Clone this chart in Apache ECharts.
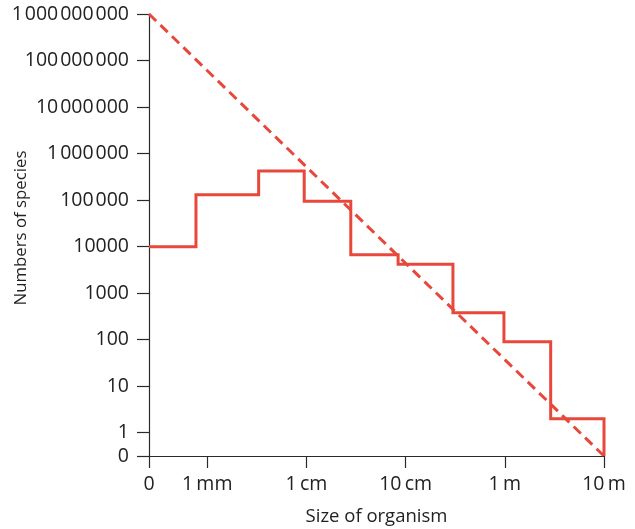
<!DOCTYPE html>
<html>
<head>
<meta charset="utf-8">
<script src="https://cdn.jsdelivr.net/npm/echarts@6/dist/echarts.min.js"></script>
<style>
  html, body { margin: 0; padding: 0; background: #fff; }
  #chart { width: 635px; height: 529px; }
</style>
</head>
<body>
<div id="chart"></div>
<script>
// ---- data ----
const sizeEdgesMm = [0, 0.77, 3.3, 9.5, 28, 84, 300, 980, 2900, 10000];
const speciesCounts = [10000, 130000, 420000, 95000, 6700, 4200, 380, 90, 2];
const trendSizesMm = [0, 10000];
const trendCounts = [1000000000, 0];
const yTickCounts = [0, 1, 10, 100, 1000, 10000, 100000, 1000000, 10000000, 100000000, 1000000000];
const yTickLabels = ['0', '1', '10', '100', '1000', '10000', '100\u200a000', '1\u200a000\u200a000', '10\u200a000\u200a000', '100\u200a000\u200a000', '1\u200a000\u200a000\u200a000'];
const xTickSizesMm = [0, 1, 10, 100, 1000, 10000];
const xTickLabels = ['0', '1\u2009mm', '1\u2009cm', '10\u2009cm', '1\u2009m', '10\u2009m'];

// ---- scale transforms (log axes with a "0" slot) ----
const X_ZERO = -0.587, Y_ZERO = -0.5;
const tx = v => v === 0 ? X_ZERO : Math.log10(v);
const ty = v => v === 0 ? Y_ZERO : Math.log10(v);

const stepPts = [];
for (let i = 0; i < speciesCounts.length; i++) {
  stepPts.push([tx(sizeEdgesMm[i]), ty(speciesCounts[i])]);
  stepPts.push([tx(sizeEdgesMm[i + 1]), ty(speciesCounts[i])]);
}
stepPts.push([tx(sizeEdgesMm[sizeEdgesMm.length - 1]), ty(0)]);
const trendPts = trendSizesMm.map((s, i) => [tx(s), ty(trendCounts[i])]);

const xVals = xTickSizesMm.map(tx);
const yVals = yTickCounts.map(ty);
const xLab = {}; xVals.forEach((v, i) => xLab[v.toFixed(4)] = xTickLabels[i]);
const yLab = {}; yVals.forEach((v, i) => yLab[v.toFixed(4)] = yTickLabels[i]);

const RED = '#e8483b';
const AX = '#2a2a2a';
const FONT = '"Open Sans", "Noto Sans", sans-serif';

const chart = echarts.init(document.getElementById('chart'), null, { renderer: 'canvas' });
chart.setOption({
  animation: false,
  backgroundColor: '#fff',
  grid: { left: 149, right: 31, top: 14, bottom: 73, containLabel: false, outerBoundsMode: 'none' },
  xAxis: {
    type: 'value', min: X_ZERO, max: 4,
    name: 'Size of organism', nameLocation: 'middle', nameGap: 51, nameMoveOverlap: false,
    nameTextStyle: { fontFamily: FONT, fontSize: 18.5, color: '#222' },
    axisLine: { show: true, onZero: false, lineStyle: { color: AX, width: 1.2 } },
    axisTick: { show: true, length: 12, customValues: xVals, lineStyle: { color: AX, width: 1.2 } },
    axisLabel: { show: true, customValues: xVals, margin: 18, fontFamily: FONT, fontSize: 19.5, color: '#222',
      showMinLabel: true, showMaxLabel: true,
      formatter: v => xLab[v.toFixed(4)] || '' },
    splitLine: { show: false }
  },
  yAxis: {
    type: 'value', min: Y_ZERO, max: 9,
    name: 'Numbers of species', nameLocation: 'middle', nameGap: 119, nameMoveOverlap: false,
    nameTextStyle: { fontFamily: FONT, fontSize: 16.8, color: '#222', padding: [0, 0, 0, 14] },
    axisLine: { show: true, onZero: false, lineStyle: { color: AX, width: 1.2 } },
    axisTick: { show: true, length: 12, customValues: yVals, lineStyle: { color: AX, width: 1.2 } },
    axisLabel: { show: true, customValues: yVals, margin: 20, fontFamily: FONT, fontSize: 19.5, color: '#222',
      showMinLabel: true, showMaxLabel: true,
      formatter: v => yLab[v.toFixed(4)] || '' },
    splitLine: { show: false }
  },
  series: [
    {
      type: 'line', data: trendPts, symbol: 'none', silent: true, z: 2,
      lineStyle: { color: RED, width: 3, type: [10, 6] }
    },
    {
      type: 'line', data: stepPts, symbol: 'none', silent: true, z: 3,
      lineStyle: { color: RED, width: 3, join: 'miter', cap: 'butt' }
    }
  ]
});
</script>
</body>
</html>
